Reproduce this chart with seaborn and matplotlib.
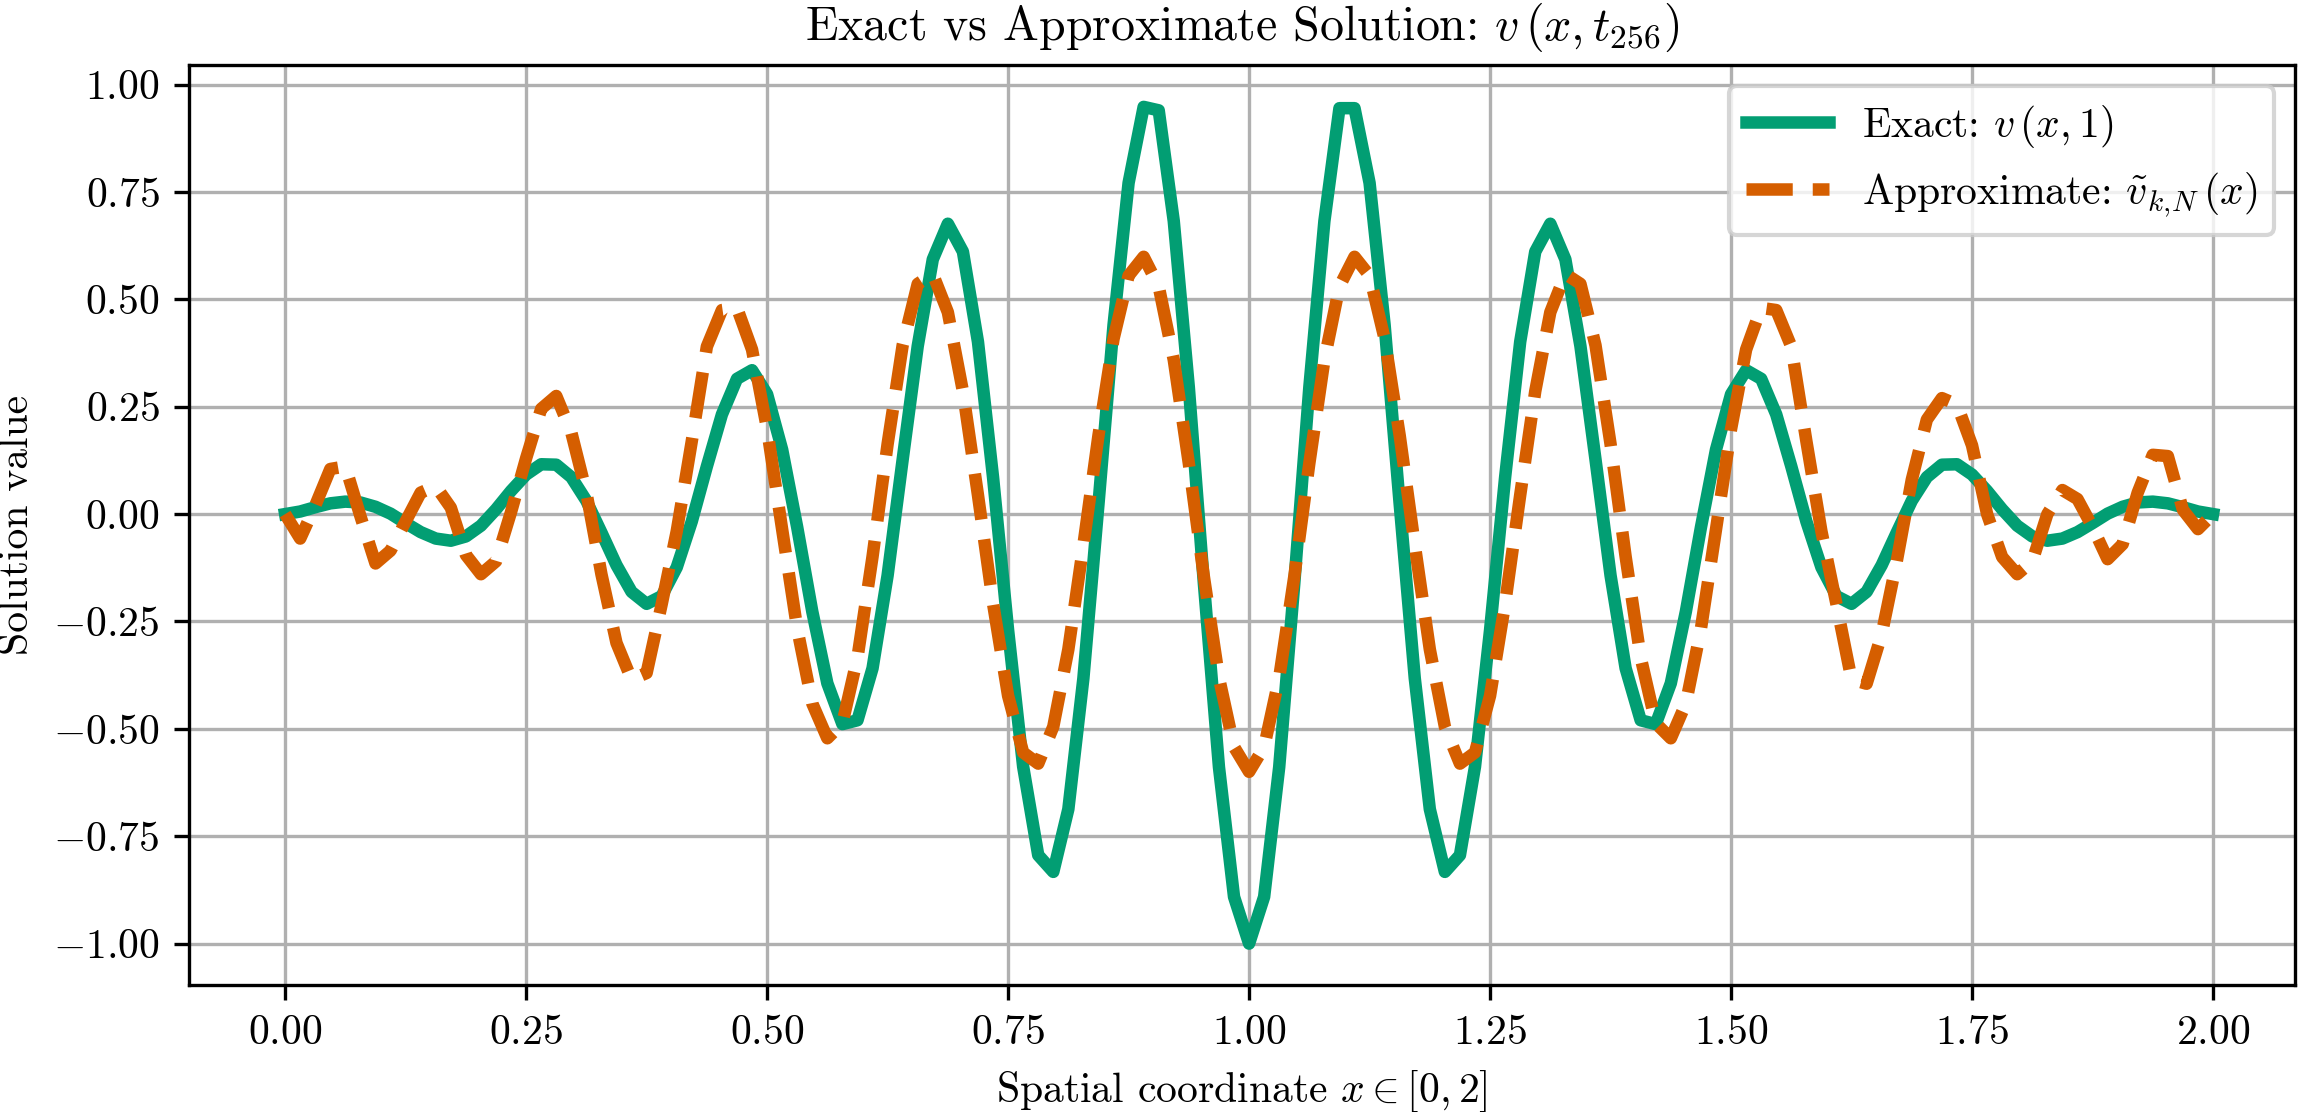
import numpy as np
import pandas as pd
import matplotlib
matplotlib.use("Agg")
import matplotlib.pyplot as plt
import seaborn as sns

# grid x = i/64, i = 0..128
x_vals = np.linspace(0, 2, 129)

# exakt losning v(x,1), avlast fran bilden
exact_left = [
    0.000, 0.006, 0.016, 0.025, 0.029, 0.027, 0.017, 0.001, -0.021, -0.042,
    -0.057, -0.062, -0.052, -0.027, 0.011, 0.054, 0.092, 0.116, 0.115, 0.086,
    0.031, -0.043, -0.119, -0.181, -0.209, -0.191, -0.124, -0.017, 0.111, 0.232,
    0.315, 0.335, 0.279, 0.150, -0.031, -0.227, -0.394, -0.489, -0.480, -0.359,
    -0.143, 0.127, 0.391, 0.593, 0.676, 0.611, 0.401, 0.086, -0.270, -0.588,
    -0.794, -0.833, -0.687, -0.382, 0.023, 0.440, 0.771, 0.948, 0.940, 0.682,
    0.295, -0.162, -0.589, -0.891, -1.000,
]
exact_right = [
    -0.891, -0.589, -0.162, 0.295, 0.682, 0.945, 0.945, 0.771, 0.440, 0.023,
    -0.382, -0.687, -0.833, -0.794, -0.588, -0.270, 0.086, 0.401, 0.611, 0.676,
    0.593, 0.391, 0.127, -0.143, -0.359, -0.480, -0.489, -0.394, -0.227, -0.031,
    0.150, 0.279, 0.335, 0.315, 0.232, 0.111, -0.017, -0.124, -0.191, -0.209,
    -0.181, -0.119, -0.043, 0.031, 0.086, 0.115, 0.116, 0.092, 0.054, 0.011,
    -0.027, -0.052, -0.062, -0.057, -0.042, -0.021, 0.001, 0.017, 0.027, 0.029,
    0.025, 0.016, 0.006, 0.000,
]

# approximativ losning
approx_left = [
    0.000, -0.057, 0.020, 0.105, 0.111, -0.005, -0.115, -0.085, -0.017, 0.050,
    0.065, 0.015, -0.095, -0.140, -0.110, 0.005, 0.130, 0.245, 0.275, 0.190,
    0.050, -0.140, -0.300, -0.385, -0.370, -0.210, -0.040, 0.170, 0.390, 0.475,
    0.480, 0.383, 0.198, -0.036, -0.267, -0.441, -0.522, -0.487, -0.334, -0.099,
    0.163, 0.393, 0.536, 0.559, 0.470, 0.286, 0.044, -0.208, -0.423, -0.555,
    -0.581, -0.495, -0.315, -0.072, 0.183, 0.408, 0.555, 0.599, 0.530, 0.359,
    0.118, -0.146, -0.381, -0.542, -0.600,
]
approx_right = [
    -0.542, -0.381, -0.146, 0.118, 0.359, 0.530, 0.599, 0.555, 0.408, 0.183,
    -0.072, -0.315, -0.495, -0.581, -0.555, -0.423, -0.208, 0.044, 0.286, 0.470,
    0.559, 0.536, 0.393, 0.163, -0.099, -0.334, -0.487, -0.522, -0.441, -0.267,
    -0.036, 0.198, 0.383, 0.480, 0.475, 0.390, 0.170, -0.040, -0.210, -0.385,
    -0.395, -0.280, -0.110, 0.080, 0.220, 0.270, 0.255, 0.160, 0.000, -0.100,
    -0.140, -0.110, 0.000, 0.056, 0.035, -0.030, -0.105, -0.070, 0.050, 0.138,
    0.135, 0.010, -0.035, 0.000,
]

df = pd.DataFrame({
    "x": x_vals,
    "exact": exact_left + exact_right,
    "approx": approx_left + approx_right,
})

plt.rcParams["font.family"] = "serif"
plt.rcParams["font.serif"] = ["cmr10"]
plt.rcParams["mathtext.fontset"] = "cm"
plt.rcParams["axes.formatter.use_mathtext"] = True
plt.rcParams["font.size"] = 10
plt.rcParams["axes.unicode_minus"] = True

pal = sns.color_palette("colorblind")

fig = plt.figure(figsize=(2313 / 300, 1112 / 300), dpi=300)
ax = fig.add_axes([0.0816, 0.1138, 0.9106, 0.8277])

sns.lineplot(data=df, x="x", y="exact", ax=ax, color=pal[2], linewidth=3,
             label=r"Exact: $v\,(x, 1)$")
sns.lineplot(data=df, x="x", y="approx", ax=ax, color=pal[3], linewidth=3,
             linestyle="--", label=r"Approximate: $\tilde{v}_{k{,}N}\,(x)$")

ax.set_xlim(-0.1, 2.085)
ax.set_xticks(np.arange(0, 2.01, 0.25))
ax.set_yticks(np.arange(-1, 1.01, 0.25))
ax.grid(True, color="#b0b0b0", linewidth=0.8)
ax.set_axisbelow(True)
ax.set_title(r"Exact vs Approximate Solution: $v\,(x, t_{256})$", fontsize=11.5)
ax.set_xlabel(r"Spatial coordinate $x \in [0, 2]$")
ax.set_ylabel("Solution value")
ax.legend(loc="upper right")

fig.savefig("out.png", dpi=300)
